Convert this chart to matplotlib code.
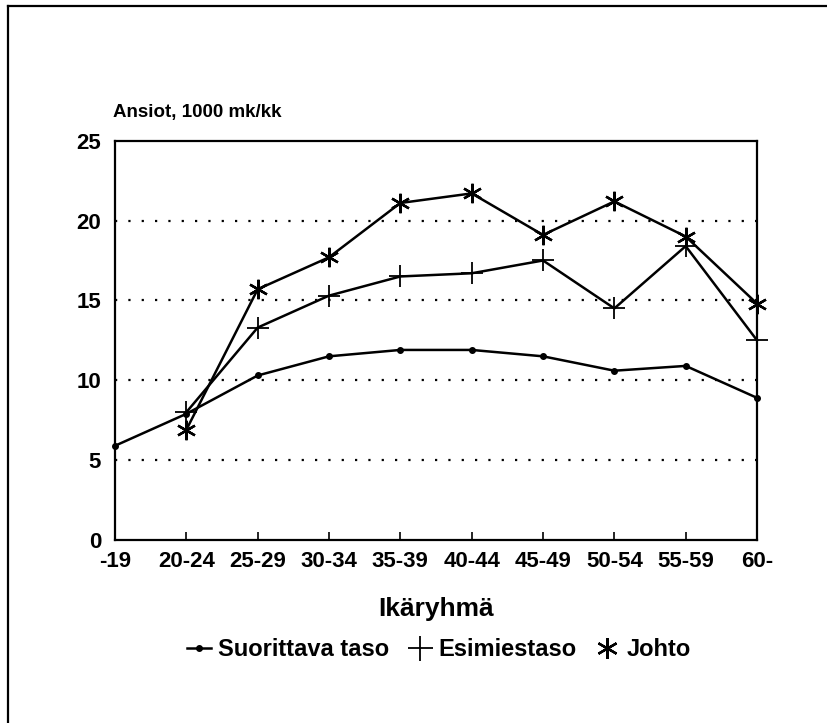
import matplotlib
matplotlib.use('Agg')
import matplotlib.pyplot as plt
from matplotlib.lines import Line2D

plt.rcParams['font.family'] = ['Liberation Sans', 'DejaVu Sans']
plt.rcParams['font.weight'] = 'bold'

ikaryhmat = ['-19', '20-24', '25-29', '30-34', '35-39', '40-44',
             '45-49', '50-54', '55-59', '60-']
suorittava = [5.9, 7.9, 10.3, 11.5, 11.9, 11.9, 11.5, 10.6, 10.9, 8.9]
esimies = [None, 8.0, 13.3, 15.3, 16.5, 16.7, 17.5, 14.5, 18.4, 12.5]
johto = [None, 6.9, 15.7, 17.7, 21.1, 21.7, 19.1, 21.2, 19.0, 14.8]
y_ticks = [0, 5, 10, 15, 20, 25]

ASTERISK = (6, 2, 0)

fig = plt.figure(figsize=(8.28, 7.23), dpi=100)
ax = fig.add_axes([0.1389, 0.2531, 0.7754, 0.5523])

x = list(range(len(ikaryhmat)))
xe = [i for i, v in zip(x, esimies) if v is not None]
ye = [v for v in esimies if v is not None]
xj = [i for i, v in zip(x, johto) if v is not None]
yj = [v for v in johto if v is not None]

ax.plot(x, suorittava, color='black', lw=1.8, marker='o', ms=4, zorder=4, clip_on=False)
ax.plot(xe, ye, color='black', lw=1.8, marker='+', ms=16, mew=1.3, zorder=4, clip_on=False)
ax.plot(xj, yj, color='black', lw=1.8, marker=ASTERISK, ms=14, mew=1.7, zorder=4, clip_on=False)

ax.set_xlim(0, len(ikaryhmat) - 1)
ax.set_ylim(0, 25)
ax.set_xticks(x)
ax.set_xticklabels(ikaryhmat, fontsize=16, fontweight='bold')
ax.set_yticks(y_ticks)
ax.set_yticklabels([str(t) for t in y_ticks], fontsize=16, fontweight='bold')
ax.tick_params(axis='x', direction='in', length=6, width=1.2, pad=8)
ax.tick_params(axis='y', length=0, pad=10)
for t in (5, 10, 15, 20):
    ax.axhline(t, color='black', lw=1.6, ls=(0, (1, 5)), zorder=1)
for s in ax.spines.values():
    s.set_linewidth(1.6)

ax.set_xlabel('Ikäryhmä', fontsize=19, fontweight='bold', labelpad=18)
fig.text(0.1365, 0.845, 'Ansiot, 1000 mk/kk', fontsize=13.5, fontweight='bold',
         ha='left', va='center')

handles = [
    Line2D([], [], color='black', lw=1.8, marker='o', ms=4),
    Line2D([], [], color='black', lw=0, marker='+', ms=18, mew=1.3),
    Line2D([], [], color='black', lw=0, marker=ASTERISK, ms=15, mew=1.7),
]
fig.legend(handles, ['Suorittava taso', 'Esimiestaso', 'Johto'],
           loc='center', bbox_to_anchor=(0.53, 0.101), ncol=3, frameon=False,
           handlelength=1.0, handletextpad=0.3, columnspacing=0.8,
           prop={'size': 17, 'weight': 'bold'})

# kehys: ylä- ja vasen reuna
fig.add_artist(Line2D([0.0097, 1.0], [0.9917, 0.9917], color='black', lw=1.6))
fig.add_artist(Line2D([0.0097, 0.0097], [0.0, 0.9917], color='black', lw=1.6))

fig.savefig('out.png', dpi=100)
